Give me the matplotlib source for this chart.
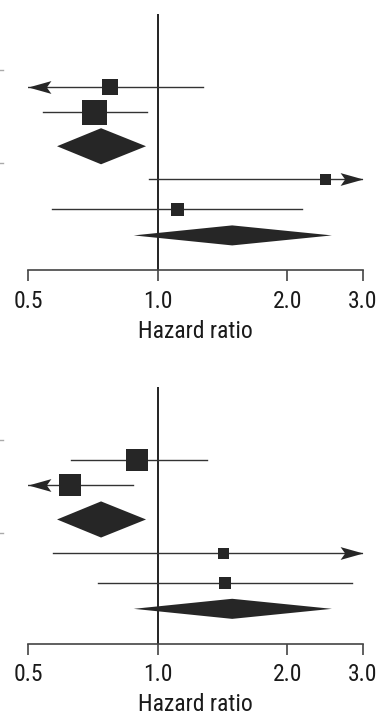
import matplotlib
matplotlib.use("Agg")
import matplotlib.pyplot as plt
from matplotlib.path import Path
from matplotlib.patches import Polygon
from matplotlib.lines import Line2D

plt.rcParams["font.family"] = ["Roboto Condensed", "Liberation Sans Narrow", "Roboto", "DejaVu Sans"]

# --- Data (hazard ratios) ---
# study rows: estimate, lower CI, upper CI, square size (px)
top_est = [0.775, 0.712, 2.45, 1.11]
top_lo = [0.45, 0.541, 0.955, 0.569]
top_hi = [1.276, 0.945, 3.6, 2.17]
top_size = [16, 25, 11, 13]
# pooled rows (diamonds): estimate, lower, upper
top_pool_est = [0.739, 1.49]
top_pool_lo = [0.584, 0.88]
top_pool_hi = [0.940, 2.54]

bot_est = [0.896, 0.626, 1.42, 1.435]
bot_lo = [0.63, 0.45, 0.57, 0.727]
bot_hi = [1.30, 0.877, 3.6, 2.83]
bot_size = [22, 22, 11, 11.5]
bot_pool_est = [0.739, 1.49]
bot_pool_lo = [0.584, 0.88]
bot_pool_hi = [0.940, 2.54]

tick_vals = [0.5, 1.0, 2.0, 3.0]
tick_labels = ["0.5", "1.0", "2.0", "3.0"]
xmin, xmax = 0.5, 3.0

# --- Layout: row positions (axis units, top = 0) ---
study_rows = [73, 98, 165, 195]
pool_rows = [132, 221]
pool_half = [18, 10]

INK = "#262626"
LINE = "#333333"

arrow_r = Path([(0, 0), (-1, 0.28), (-0.8, 0), (-1, -0.28), (0, 0)],
               [Path.MOVETO, Path.LINETO, Path.LINETO, Path.LINETO, Path.CLOSEPOLY])
arrow_l = Path([(0, 0), (1, 0.28), (0.8, 0), (1, -0.28), (0, 0)],
               [Path.MOVETO, Path.LINETO, Path.LINETO, Path.LINETO, Path.CLOSEPOLY])


def forest(ax, est, lo, hi, size, p_est, p_lo, p_hi):
    ax.set_xscale("log")
    ax.set_xlim(xmin, xmax)
    ax.set_ylim(256, 0)
    ax.axvline(1.0, color="#222222", lw=1.4, zorder=1)

    for e, l, h, s, y in zip(est, lo, hi, size, study_rows):
        l2, h2 = max(l, xmin), min(h, xmax)
        ax.plot([l2, h2], [y, y], color=LINE, lw=1.0, zorder=2)
        if l < xmin:
            ax.plot([xmin], [y], marker=arrow_l, ms=33, color=INK, mew=0, clip_on=False, zorder=3)
        if h > xmax:
            ax.plot([xmax], [y], marker=arrow_r, ms=33, color=INK, mew=0, clip_on=False, zorder=3)
        ax.plot([e], [y], marker="s", ms=s * 0.72, color=INK, mew=0, zorder=4)

    for e, l, h, y, hh in zip(p_est, p_lo, p_hi, pool_rows, pool_half):
        ax.add_patch(Polygon([(l, y), (e, y - hh), (h, y), (e, y + hh)],
                             closed=True, facecolor=INK, edgecolor="none", zorder=4))

    for side in ["top", "right", "left"]:
        ax.spines[side].set_visible(False)
    ax.spines["bottom"].set_color("#444444")
    ax.spines["bottom"].set_linewidth(1.2)
    ax.set_yticks([])
    ax.minorticks_off()
    ax.set_xticks(tick_vals)
    ax.set_xticklabels(tick_labels)
    ax.tick_params(axis="x", direction="out", length=8, width=1.2, color="#444444",
                   labelsize=17, labelcolor="#1a1a1a", pad=6)
    ax.set_xlabel("Hazard ratio", fontsize=17, color="#1a1a1a", labelpad=5)


fig = plt.figure(figsize=(3.79, 7.18), dpi=100)
ax1 = fig.add_axes([0.0739, 0.6233, 0.8839, 0.3572])
ax2 = fig.add_axes([0.0739, 0.1031, 0.8839, 0.358])
forest(ax1, top_est, top_lo, top_hi, top_size, top_pool_est, top_pool_lo, top_pool_hi)
forest(ax2, bot_est, bot_lo, bot_hi, bot_size, bot_pool_est, bot_pool_lo, bot_pool_hi)

# faint leftover marks at the left edge
for yy in [70, 163, 440, 533]:
    fig.add_artist(Line2D([0, 3 / 379], [1 - yy / 718] * 2, color="#aaaaaa", lw=1))

fig.savefig("out.png", dpi=100)
